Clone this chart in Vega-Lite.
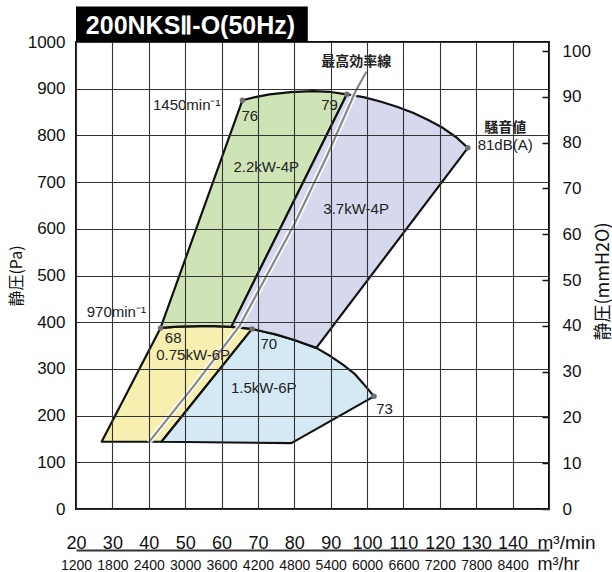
{
  "$schema": "https://vega.github.io/schema/vega-lite/v6.json",
  "width": 473,
  "height": 467,
  "autosize": "none",
  "padding": {"left": 76, "top": 42, "right": 63, "bottom": 63},
  "background": "white",
  "config": {
    "view": {"stroke": "#111", "strokeWidth": 2},
    "font": "Liberation Sans",
    "text": {"font": "Liberation Sans", "color": "#222"}
  },
  "datasets": {
    "regions": [
      {"region": "0.75kW-6P", "q": 27.05, "p": 144},
      {"region": "0.75kW-6P", "q": 43.24, "p": 387.7},
      {"region": "0.75kW-6P", "q": 48, "p": 390.5},
      {"region": "0.75kW-6P", "q": 54, "p": 391.5},
      {"region": "0.75kW-6P", "q": 58, "p": 391.5},
      {"region": "0.75kW-6P", "q": 62.7, "p": 390},
      {"region": "0.75kW-6P", "q": 68.4, "p": 385.6},
      {"region": "0.75kW-6P", "q": 43.5, "p": 144},

      {"region": "1.5kW-6P", "q": 43.5, "p": 144},
      {"region": "1.5kW-6P", "q": 68.4, "p": 385.6},
      {"region": "1.5kW-6P", "q": 72, "p": 379},
      {"region": "1.5kW-6P", "q": 75.1, "p": 373.4},
      {"region": "1.5kW-6P", "q": 80, "p": 362},
      {"region": "1.5kW-6P", "q": 86.05, "p": 345},
      {"region": "1.5kW-6P", "q": 90, "p": 327},
      {"region": "1.5kW-6P", "q": 93.35, "p": 309},
      {"region": "1.5kW-6P", "q": 96.5, "p": 290},
      {"region": "1.5kW-6P", "q": 98.8, "p": 270},
      {"region": "1.5kW-6P", "q": 101.9, "p": 241.2},
      {"region": "1.5kW-6P", "q": 79.2, "p": 141},

      {"region": "2.2kW-4P", "q": 43.24, "p": 387.7},
      {"region": "2.2kW-4P", "q": 65.75, "p": 875.3},
      {"region": "2.2kW-4P", "q": 69.6, "p": 882.6},
      {"region": "2.2kW-4P", "q": 73.2, "p": 888},
      {"region": "2.2kW-4P", "q": 79, "p": 892.5},
      {"region": "2.2kW-4P", "q": 85.1, "p": 894.6},
      {"region": "2.2kW-4P", "q": 90, "p": 893},
      {"region": "2.2kW-4P", "q": 94.45, "p": 888},
      {"region": "2.2kW-4P", "q": 62.7, "p": 390},
      {"region": "2.2kW-4P", "q": 58, "p": 391.5},
      {"region": "2.2kW-4P", "q": 54, "p": 391.5},
      {"region": "2.2kW-4P", "q": 48, "p": 390.5},

      {"region": "3.7kW-4P", "q": 94.45, "p": 888},
      {"region": "3.7kW-4P", "q": 99, "p": 882},
      {"region": "3.7kW-4P", "q": 103.4, "p": 873.2},
      {"region": "3.7kW-4P", "q": 108, "p": 862},
      {"region": "3.7kW-4P", "q": 112.6, "p": 848.3},
      {"region": "3.7kW-4P", "q": 116.8, "p": 833},
      {"region": "3.7kW-4P", "q": 120.8, "p": 816.2},
      {"region": "3.7kW-4P", "q": 124.5, "p": 796},
      {"region": "3.7kW-4P", "q": 127.7, "p": 773.4},
      {"region": "3.7kW-4P", "q": 86.05, "p": 345},
      {"region": "3.7kW-4P", "q": 80, "p": 362},
      {"region": "3.7kW-4P", "q": 75.1, "p": 373.4},
      {"region": "3.7kW-4P", "q": 72, "p": 379},
      {"region": "3.7kW-4P", "q": 68.4, "p": 385.6},
      {"region": "3.7kW-4P", "q": 62.7, "p": 390}
    ],
    "bestEfficiency": [
      {"q": 40.03, "p": 143.1},
      {"q": 52.66, "p": 266.3},
      {"q": 65.0, "p": 392.7},
      {"q": 80.1, "p": 611.2},
      {"q": 88.9, "p": 754.7},
      {"q": 96.8, "p": 894},
      {"q": 99.85, "p": 937}
    ],
    "noisePoints": [
      {"q": 65.75, "p": 875.3, "dB": 76},
      {"q": 94.45, "p": 888, "dB": 79},
      {"q": 127.7, "p": 773.4, "dB": 81},
      {"q": 43.24, "p": 387.7, "dB": 68},
      {"q": 68.4, "p": 385.6, "dB": 70},
      {"q": 101.9, "p": 241.2, "dB": 73}
    ],
    "regionLabels": [
      {"q": 72.3, "p": 731.9, "text": "2.2kW-4P"},
      {"q": 97.0, "p": 642.6, "text": "3.7kW-4P"},
      {"q": 52.2, "p": 330.4, "text": "0.75kW-6P"},
      {"q": 71.6, "p": 259.1, "text": "1.5kW-6P"}
    ],
    "pointLabels": [
      {"q": 67.75, "p": 840.7, "text": "76"},
      {"q": 89.7, "p": 865.7, "text": "79"},
      {"q": 46.7, "p": 366.2, "text": "68"},
      {"q": 73.0, "p": 353.5, "text": "70"},
      {"q": 104.8, "p": 214.8, "text": "73"},
      {"q": 137.95, "p": 778.4, "text": "81dB(A)"}
    ],
    "speedLabels": [
      {"q": 41.15, "p": 865.7, "text": "1450min⁻¹"},
      {"q": 22.94, "p": 422.5, "text": "970min⁻¹"}
    ],
    "notes": [
      {"q": 97.0, "p": 956.7, "text": "最高効率線"},
      {"q": 137.95, "p": 816, "text": "騒音値"}
    ]
  },
  "resolve": {"axis": {"x": "independent", "y": "independent"}},
  "layer": [
    {
      "encoding": {
        "x": {
          "field": "q", "type": "quantitative",
          "scale": {"domain": [20, 150], "nice": false, "zero": false},
          "axis": {
            "orient": "bottom",
            "values": [20, 30, 40, 50, 60, 70, 80, 90, 100, 110, 120, 130, 140, 150],
            "grid": true, "gridColor": "#333", "gridWidth": 1.1,
            "ticks": false, "domain": false,
            "labelFlush": false, "labelOverlap": false, "labelBound": false,
            "labelExpr": "datum.value == 150 ? 'm³/min' : datum.label",
            "labelFontSize": {"condition": {"test": "datum.value == 150", "value": 19}, "value": 18},
            "labelAlign": {"condition": {"test": "datum.value == 150", "value": "left"}, "value": "center"},
            "labelOffset": {"condition": {"test": "datum.value == 150", "value": -12}, "value": 0},
            "labelColor": "#111",
            "labelPadding": 39,
            "labelBaseline": "alphabetic",
            "title": null,
            "zindex": 1
          }
        },
        "y": {
          "field": "p", "type": "quantitative",
          "scale": {"domain": [0, 1000], "nice": false, "zero": false},
          "axis": {
            "orient": "left",
            "values": [0, 100, 200, 300, 400, 500, 600, 700, 800, 900, 1000],
            "format": "d",
            "grid": true, "gridColor": "#333", "gridWidth": 1.1,
            "ticks": false, "domain": false,
            "labelFlush": false, "labelOverlap": false, "labelBound": false,
            "labelFontSize": 17, "labelColor": "#111",
            "labelPadding": 11, "labelBaseline": "middle",
            "title": "静圧(Pa)",
            "titleFont": "Noto Sans CJK JP",
            "titleFontSize": 16,
            "titleFontWeight": "normal",
            "titleColor": "#111",
            "titlePadding": 3,
            "zindex": 1
          }
        }
      },
      "layer": [
        {
          "data": {"name": "regions"},
          "transform": [{"filter": "datum.region === '0.75kW-6P'"}],
          "mark": {"type": "line", "interpolate": "linear-closed", "fill": "#f6efb0", "stroke": "#111", "strokeWidth": 2.2, "strokeJoin": "round"},
          "encoding": {"order": {"value": null}}
        },
        {
          "data": {"name": "regions"},
          "transform": [{"filter": "datum.region === '1.5kW-6P'"}],
          "mark": {"type": "line", "interpolate": "linear-closed", "fill": "#d4e9f3", "stroke": "#111", "strokeWidth": 2.2, "strokeJoin": "round"},
          "encoding": {"order": {"value": null}}
        },
        {
          "data": {"name": "regions"},
          "transform": [{"filter": "datum.region === '2.2kW-4P'"}],
          "mark": {"type": "line", "interpolate": "linear-closed", "fill": "#cfe4b6", "stroke": "#111", "strokeWidth": 2.2, "strokeJoin": "round"},
          "encoding": {"order": {"value": null}}
        },
        {
          "data": {"name": "regions"},
          "transform": [{"filter": "datum.region === '3.7kW-4P'"}],
          "mark": {"type": "line", "interpolate": "linear-closed", "fill": "#d6d9ee", "stroke": "#111", "strokeWidth": 2.2, "strokeJoin": "round"},
          "encoding": {"order": {"value": null}}
        },
        {
          "data": {"name": "bestEfficiency"},
          "mark": {"type": "line", "stroke": "#ffffff", "strokeWidth": 5.5, "opacity": 0.85},
          "encoding": {"order": {"value": null}}
        },
        {
          "data": {"name": "bestEfficiency"},
          "mark": {"type": "line", "stroke": "#888888", "strokeWidth": 2.2},
          "encoding": {"order": {"value": null}}
        },
        {
          "data": {"name": "regionLabels"},
          "mark": {"type": "text", "fontSize": 15, "align": "center", "baseline": "middle", "fill": "#222"},
          "encoding": {"text": {"field": "text"}}
        },
        {
          "data": {"name": "pointLabels"},
          "mark": {"type": "text", "fontSize": 15, "align": "center", "baseline": "middle", "fill": "#222"},
          "encoding": {"text": {"field": "text"}}
        },
        {
          "data": {"name": "speedLabels"},
          "mark": {"type": "text", "fontSize": 15, "align": "left", "baseline": "middle", "fill": "#222"},
          "encoding": {"text": {"field": "text"}}
        },
        {
          "data": {"name": "notes"},
          "mark": {"type": "text", "font": "Noto Sans CJK JP", "fontWeight": "bold", "fontSize": 14, "align": "center", "baseline": "middle", "fill": "#222"},
          "encoding": {"text": {"field": "text"}}
        }
      ]
    },
    {
      "data": {"name": "noisePoints"},
      "mark": {"type": "point", "filled": true, "size": 30, "color": "#707070", "opacity": 1},
      "encoding": {
        "x": {
          "field": "q", "type": "quantitative",
          "scale": {"domain": [20, 150], "nice": false, "zero": false},
          "axis": {
            "orient": "bottom",
            "offset": 41,
            "values": [20, 30, 40, 50, 60, 70, 80, 90, 100, 110, 120, 130, 140, 150],
            "grid": false, "ticks": false,
            "domain": true, "domainColor": "#333", "domainWidth": 2,
            "labelFlush": false, "labelOverlap": false, "labelBound": false,
            "labelExpr": "datum.value == 150 ? 'm³/hr' : format(datum.value * 60, 'd')",
            "labelFont": "Liberation Sans",
            "labelFontSize": {"condition": {"test": "datum.value == 150", "value": 18}, "value": 14},
            "labelAlign": {"condition": {"test": "datum.value == 150", "value": "left"}, "value": "center"},
            "labelOffset": {"condition": {"test": "datum.value == 150", "value": -12}, "value": 0},
            "labelColor": "#111",
            "labelPadding": 19,
            "labelBaseline": "alphabetic",
            "title": null
          }
        },
        "y": {
          "field": "p", "type": "quantitative",
          "scale": {"domain": [0, 1000], "nice": false, "zero": false},
          "axis": {
            "orient": "right",
            "values": [0, 98.0665, 196.133, 294.1995, 392.266, 490.3325, 588.399, 686.4655, 784.532, 882.5985, 980.665],
            "labelExpr": "round(datum.value / 9.80665)",
            "grid": false, "domain": false,
            "ticks": true, "tickSize": -7, "tickColor": "#111", "tickWidth": 1.5,
            "labelFlush": false, "labelOverlap": false, "labelBound": false,
            "labelFontSize": 17, "labelColor": "#111",
            "labelPadding": 20, "labelAlign": "left", "labelBaseline": "middle",
            "title": "静圧(mmH2O)",
            "titleFont": "Noto Sans CJK JP",
            "titleFontSize": 18,
            "titleFontWeight": "normal",
            "titleColor": "#111",
            "titleAngle": 270,
            "titleAlign": "center",
            "titleBaseline": "middle",
            "titleX": 54,
            "titleY": 239
          }
        }
      }
    },
    {
      "data": {"values": [{"model": "200NKSⅡ-O(50Hz)"}]},
      "layer": [
        {
          "mark": {"type": "rect", "color": "#000"},
          "encoding": {
            "x": {"datum": 20, "type": "quantitative", "scale": {"domain": [20, 150], "nice": false, "zero": false}, "axis": null},
            "x2": {"datum": 83.7},
            "y": {"datum": 1000, "type": "quantitative", "scale": {"domain": [0, 1000], "nice": false, "zero": false}, "axis": null},
            "y2": {"datum": 1076}
          }
        },
        {
          "mark": {"type": "text", "fontSize": 25, "fontWeight": "bold", "align": "left", "baseline": "middle", "fill": "#fff"},
          "encoding": {
            "x": {"datum": 22.7, "type": "quantitative", "scale": {"domain": [20, 150], "nice": false, "zero": false}, "axis": null},
            "y": {"datum": 1035, "type": "quantitative", "scale": {"domain": [0, 1000], "nice": false, "zero": false}, "axis": null},
            "text": {"field": "model"}
          }
        }
      ]
    }
  ]
}
